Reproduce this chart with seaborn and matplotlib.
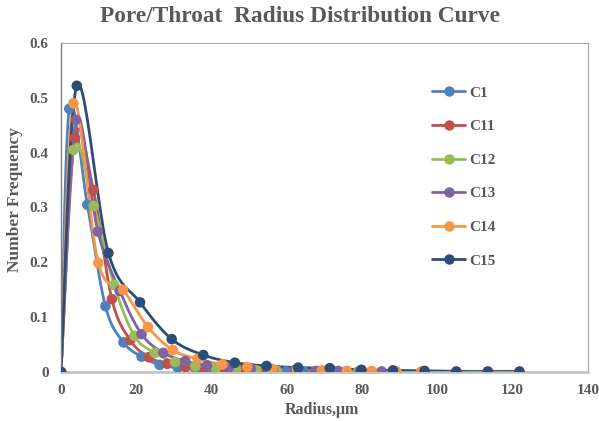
import numpy as np
import pandas as pd
import matplotlib
matplotlib.use("Agg")
import matplotlib.pyplot as plt
from matplotlib.lines import Line2D
import seaborn as sns

series_names = ["C1", "C11", "C12", "C13", "C14", "C15"]
colors = ["#4F81BD", "#C0504D", "#9BBB59", "#8064A2", "#F79646", "#2C4D75"]

x_C1 = [0, 2.2, 7.0, 11.8, 16.6, 21.4, 26.2, 31.0, 35.8, 40.6, 45.4, 50.2, 55.0, 59.8, 64.6, 69.4]
y_C1 = [0, 0.480, 0.305, 0.120, 0.054, 0.028, 0.013, 0.008, 0.005, 0.003, 0.002, 0.001, 0.001, 0.001, 0.0005, 0.0005]

x_C11 = [0, 3.7, 8.6, 13.5, 18.4, 23.3, 28.2, 33.1, 38.0, 42.9, 47.8, 52.7, 57.6, 62.5, 67.4, 72.3]
y_C11 = [0, 0.427, 0.332, 0.133, 0.058, 0.027, 0.015, 0.009, 0.006, 0.004, 0.003, 0.002, 0.001, 0.001, 0.001, 0.0005]

x_C12 = [0, 3.3, 8.7, 14.1, 19.5, 24.9, 30.3, 35.7, 41.1, 46.5, 51.9, 57.3, 62.7, 68.1, 73.5, 78.9]
y_C12 = [0, 0.405, 0.303, 0.159, 0.066, 0.035, 0.018, 0.010, 0.007, 0.005, 0.003, 0.002, 0.002, 0.001, 0.001, 0.001]

x_C13 = [0, 4.0, 9.8, 15.6, 21.4, 27.2, 33.0, 38.8, 44.6, 50.4, 56.2, 62.0, 67.8, 73.6, 79.4, 85.2]
y_C13 = [0, 0.460, 0.256, 0.148, 0.069, 0.035, 0.020, 0.012, 0.008, 0.006, 0.004, 0.003, 0.002, 0.002, 0.001, 0.001]

x_C14 = [0, 3.3, 9.9, 16.5, 23.1, 29.7, 36.3, 42.9, 49.5, 56.1, 62.7, 69.3, 75.9, 82.5, 89.1, 95.7]
y_C14 = [0, 0.490, 0.199, 0.150, 0.082, 0.040, 0.024, 0.014, 0.009, 0.006, 0.004, 0.003, 0.002, 0.002, 0.001, 0.001]

x_C15 = [0, 4.2, 12.6, 21.0, 29.4, 37.8, 46.2, 54.6, 63.0, 71.4, 79.8, 88.2, 96.6, 105.0, 113.4, 121.8]
y_C15 = [0, 0.522, 0.217, 0.127, 0.060, 0.031, 0.017, 0.011, 0.008, 0.007, 0.004, 0.003, 0.002, 0.001, 0.001, 0.001]

xs = [x_C1, x_C11, x_C12, x_C13, x_C14, x_C15]
ys = [y_C1, y_C11, y_C12, y_C13, y_C14, y_C15]

x_ticks = [0, 20, 40, 60, 80, 100, 120, 140]
y_ticks = [0, 0.1, 0.2, 0.3, 0.4, 0.5, 0.6]
title = "Pore/Throat  Radius Distribution Curve"
x_label = "Radius,\u03bcm"
y_label = "Number Frequency"

XMAX, YMAX = 140, 0.6
SX, SY = 526 / XMAX, 329 / YMAX  # screen scaling for Excel-like smoothing


def smooth(x, y, n=24):
    px = np.asarray(x, float) * SX
    py = np.asarray(y, float) * SY
    P = np.column_stack([px, py])
    P = np.vstack([P[0], P, P[-1]])
    out = []
    for i in range(1, len(P) - 2):
        p0, p1, p2, p3 = P[i - 1], P[i], P[i + 1], P[i + 2]
        t = np.linspace(0, 1, n, endpoint=False)[:, None]
        c1 = p1 + (p2 - p0) / 6.0
        c2 = p2 - (p3 - p1) / 6.0
        b = ((1 - t) ** 3) * p1 + 3 * ((1 - t) ** 2) * t * c1 + 3 * (1 - t) * t ** 2 * c2 + t ** 3 * p2
        out.append(b)
    out.append(P[-2][None, :])
    out = np.vstack(out)
    return out[:, 0] / SX, out[:, 1] / SY


sns.set_theme(style="white")
plt.rcParams["font.family"] = ["Liberation Serif", "DejaVu Serif"]

fig = plt.figure(figsize=(5.99, 4.21), dpi=100)
ax = fig.add_axes([61 / 599, 1 - 372 / 421, 527 / 599, 329 / 421])

for name, c, x, y in zip(series_names, colors, xs, ys):
    sx, sy = smooth(x, y)
    d_line = pd.DataFrame({"x": sx, "y": sy})
    sns.lineplot(data=d_line, x="x", y="y", ax=ax, color=c, lw=2.0,
                 sort=False, estimator=None, legend=False)
    d_pts = pd.DataFrame({"x": x, "y": y})
    sns.scatterplot(data=d_pts, x="x", y="y", ax=ax, color=c, s=58,
                    edgecolor="none", legend=False, zorder=3)

ax.set_xlim(0, XMAX)
ax.set_ylim(0, YMAX)
ax.set_xticks(x_ticks)
ax.set_yticks(y_ticks)
ax.set_xticklabels([str(v) for v in x_ticks])
ax.set_yticklabels(["0" if v == 0 else f"{v:.1f}" for v in y_ticks])
ax.tick_params(axis="x", length=0, labelsize=11, labelcolor="#595959", pad=9)
ax.tick_params(axis="y", length=0, labelsize=11, labelcolor="#595959", pad=9)
for lab in ax.get_xticklabels() + ax.get_yticklabels():
    lab.set_fontweight("bold")
ax.set_xlabel("")
ax.set_ylabel("")
fig.text(322 / 599, 1 - 410 / 421, x_label, ha="center", va="center",
         fontsize=11.5, fontweight="bold", color="#595959")
fig.text(15 / 599, 1 - 200 / 421, y_label, ha="center", va="center", rotation=90,
         fontsize=12.5, fontweight="bold", color="#595959")
ax.grid(False)
for side in ["top", "right"]:
    ax.spines[side].set_color("#A6A6A6")
    ax.spines[side].set_linewidth(0.8)
ax.spines["left"].set_color("#7F7F7F")
ax.spines["left"].set_linewidth(1.0)
ax.spines["bottom"].set_color("#BFBFBF")
ax.spines["bottom"].set_linewidth(1.8)

fig.text(0.5, 1 - 17 / 421, title, ha="center", va="center", fontsize=16.8,
         fontweight="bold", color="#595959")

handles = [Line2D([0], [0], color=c, lw=2.0, marker="o", markersize=7.5,
                  markeredgewidth=0) for c in colors]
leg = ax.legend(handles, series_names, loc="upper left",
                bbox_to_anchor=(426 / 599, 1 - 80 / 421), bbox_transform=fig.transFigure,
                frameon=False, fontsize=11, labelspacing=1.3, handlelength=2.15,
                handletextpad=0.3, borderaxespad=0)
for t in leg.get_texts():
    t.set_fontweight("bold")
    t.set_color("#595959")

fig.savefig("out.png", dpi=100)
